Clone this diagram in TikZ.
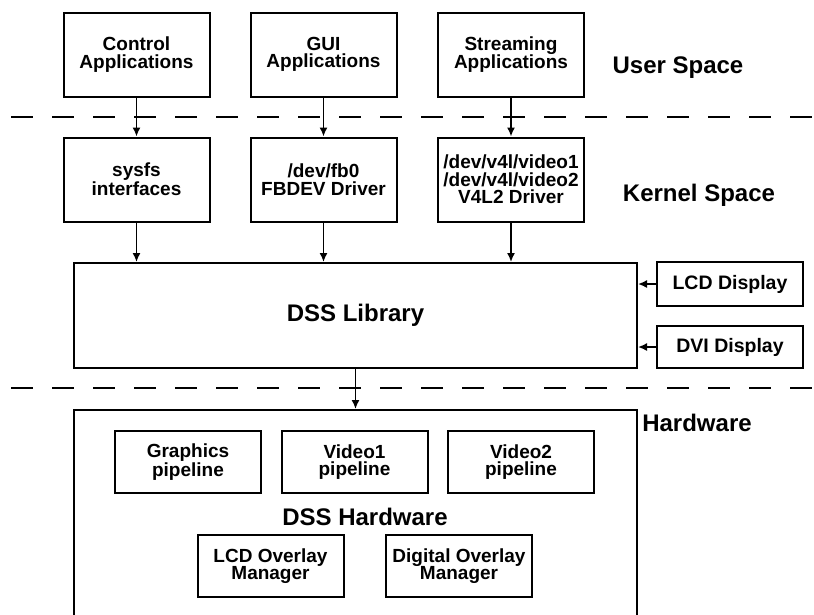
\documentclass[tikz,border=0pt]{standalone}
\usepackage{fontspec}
\setmainfont{Liberation Sans}
\usetikzlibrary{arrows.meta}
\begin{document}
\begin{tikzpicture}[x=1pt,y=-1pt,
  box/.style={draw,line width=2pt,align=center,inner sep=0pt,font=\bfseries\fontsize{19}{17.5}\selectfont},
  appbox/.style={box,minimum width=146pt,minimum height=84pt},
  pipebox/.style={box,minimum width=146pt,minimum height=62pt},
  dispbox/.style={box,minimum width=146pt,font=\bfseries\fontsize{19.5}{18}\selectfont},
  area/.style={font=\bfseries\fontsize{24}{24}\selectfont},
  arr/.style={-{Latex[length=9pt,width=8pt]},line width=1.6pt},
  sep/.style={line width=2.8pt,dash pattern=on 22pt off 19pt}]
\clip (0,0) rectangle (814,614);
\fill[white] (0,0) rectangle (814,614);

\node[appbox] (ctrl) at (136.5,54.5) {Control\\Applications};
\node[appbox] (gui) at (323.5,54.5) {GUI\\Applications};
\node[appbox] (stream) at (511,54.5) {Streaming\\Applications};
\node[area] (user) at (678,68) {User Space};

\coordinate (sepa) at (11,117);
\coordinate (sepb) at (814,117);
\draw[sep] (sepa) -- (sepb);

\node[appbox] (sysfs) at (136.5,179.5) {sysfs\\interfaces};
\node[appbox] (fbdev) at (323.5,179.5) {/dev/fb0\\FBDEV Driver};
\node[appbox] (v4l) at (511,179.5) {/dev/v4l/video1\\/dev/v4l/video2\\V4L2 Driver};
\node[area] (kernel) at (699,195) {Kernel Space};

\node[box,minimum width=563pt,minimum height=105pt,font=\bfseries\fontsize{24}{24}\selectfont] (dsslib) at (355.5,315.5) {DSS Library};
\node[dispbox,minimum height=44pt] (lcd) at (730,284) {LCD Display};
\node[dispbox,minimum height=42pt] (dvi) at (730,347) {DVI Display};

\coordinate (sepc) at (11,388);
\coordinate (sepd) at (814,388);
\draw[sep] (sepc) -- (sepd);

\node[box,minimum width=563pt,minimum height=300pt] (hw) at (355.5,560) {};
\node[area] (hwlabel) at (697,423) {Hardware};
\node[pipebox] (gfx) at (188,462) {Graphics\\pipeline};
\node[pipebox] (vidone) at (354.5,462) {Video1\\pipeline};
\node[pipebox] (vidtwo) at (521,462) {Video2\\pipeline};
\node[area] (dsshw) at (365,517) {DSS Hardware};
\node[pipebox] (lcdovl) at (270.5,566) {LCD Overlay\\Manager};
\node[pipebox] (digovl) at (459,566) {Digital Overlay\\Manager};

\draw[arr] (ctrl) -- (sysfs);
\draw[arr] (gui) -- (fbdev);
\draw[arr] (stream) -- (v4l);
\draw[arr] (sysfs) -- (sysfs |- dsslib.north);
\draw[arr] (fbdev) -- (fbdev |- dsslib.north);
\draw[arr] (v4l) -- (v4l |- dsslib.north);
\draw[arr] (lcd) -- (lcd -| dsslib.east);
\draw[arr] (dvi) -- (dvi -| dsslib.east);
\draw[arr] (dsslib) -- (hw);
\end{tikzpicture}
\end{document}
